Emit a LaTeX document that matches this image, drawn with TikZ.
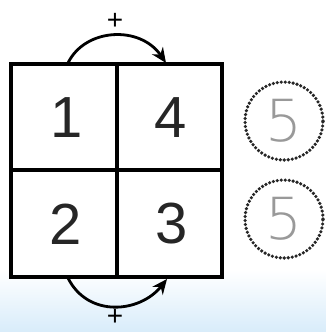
\documentclass[tikz,border=0pt]{standalone}
\usepackage{fontspec}
\setmainfont{Liberation Sans}
\newfontfamily\thinfont{DejaVu Sans ExtraLight}
\usetikzlibrary{arrows.meta}
\definecolor{bgblue}{HTML}{D8ECFA}
\begin{document}
\begin{tikzpicture}[x=1pt,y=-1pt,
  gridline/.style={line width=3.2pt,line cap=rect},
  digit/.style={font=\fontsize{58}{58}\selectfont,text=black!85,inner sep=0pt},
  faint/.style={font=\thinfont\fontsize{58}{58}\selectfont,text=black!40,inner sep=0pt},
  dotring/.style={draw=black!85,line width=3.6pt,dash pattern=on 0pt off 4pt,line cap=round},
  jump/.style={line width=2.8pt,-{Stealth[length=15pt,width=13pt]}},
  plus/.style={font=\fontsize{28}{28}\selectfont,inner sep=0pt}]
\useasboundingbox (0,0) rectangle (326,332);
\fill[white] (0,0) rectangle (326,332);
\shade[top color=white,bottom color=bgblue] (0,270) rectangle (326,332);
% grid
\draw[gridline] (11,64) rectangle (222,277);
\draw[gridline] (117,64) -- (117,277);
\draw[gridline] (11,170) -- (222,170);
% digits
\node[digit] (n1) at (67,118) {1};
\node[digit] (n4) at (171,118) {4};
\node[digit] (n2) at (66,224) {2};
\node[digit] (n3) at (172,224) {3};
% rings
\node[dotring,circle,minimum size=78pt] (c1) at (284,121) {};
\node[dotring,circle,minimum size=78pt] (c2) at (284,219) {};
\node[faint] (f1) at (c1) {5};
\node[faint] (f2) at (c2) {5};
% arrows
\coordinate (a1) at (68,63);
\coordinate (b1) at (166,63);
\coordinate (a2) at (68,278);
\coordinate (b2) at (167,279);
\draw[jump] (a1) .. controls (85,28) and (140,25) .. (b1);
\draw[jump] (a2) .. controls (88,318) and (140,313) .. (b2);
\node[plus] (p1) at (115,21) {+};
\node[plus] (p2) at (115,317) {+};
\end{tikzpicture}
\end{document}
